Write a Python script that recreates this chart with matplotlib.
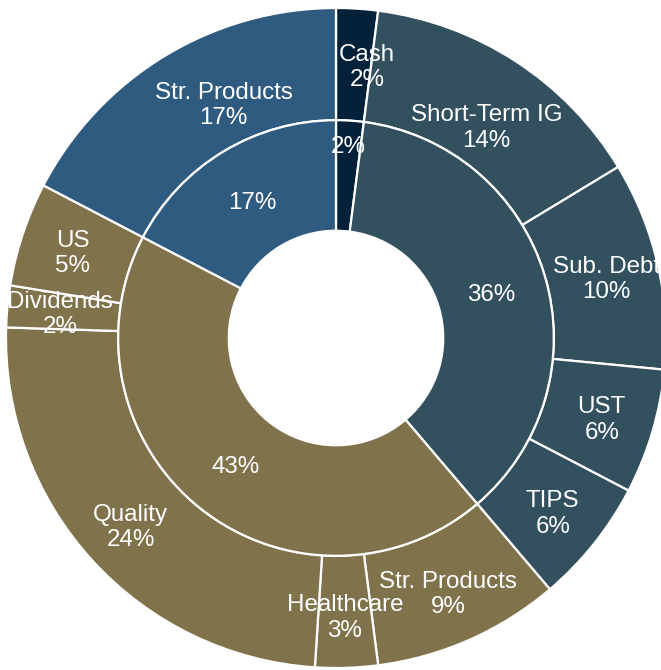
import matplotlib.pyplot as plt
import numpy as np

plt.rcParams['font.family'] = ['Liberation Sans', 'DejaVu Sans']

# inner ring: asset classes
inner_names = ['Cash', 'Fixed Income', 'Equity', 'Str. Products']
inner_vals = [2, 36, 43, 17]
inner_colors = ['#03223a', '#33505f', '#80734c', '#2f5b81']

# outer ring: sub-allocations
outer_names = ['Cash', 'Short-Term IG', 'Sub. Debt', 'UST', 'TIPS',
               'Str. Products', 'Healthcare', 'Quality', 'Dividends', 'US',
               'Str. Products']
outer_vals = [2, 14, 10, 6, 6, 9, 3, 24, 2, 5, 17]
outer_group = [0, 1, 1, 1, 1, 2, 2, 2, 2, 2, 3]
outer_colors = [inner_colors[g] for g in outer_group]

W, H = 661, 670
R = 330.0
cx, cy = 336, 338

fig = plt.figure(figsize=(W / 100, H / 100), dpi=100)
ax = fig.add_axes([0, 0, 1, 1])

wp = dict(edgecolor='white', linewidth=1.6)
outer, _ = ax.pie(outer_vals, radius=1.0, colors=outer_colors, startangle=90,
                  counterclock=False, wedgeprops=dict(width=1.0 - 0.66, **wp))
inner, _ = ax.pie(inner_vals, radius=0.66, colors=inner_colors, startangle=90,
                  counterclock=False, wedgeprops=dict(width=0.66 - 0.325, **wp))

tp = dict(color='white', fontsize=17.4, ha='center', va='center', linespacing=1.2)
dy = -3 / R

# label nudges (angle shift in degrees, radius) where Excel moved the label
nudge = {0: (-2.8, 0.835), 1: (-2.2, 0.79), 10: (-5.7, 0.79)}

for i, (w, name, v) in enumerate(zip(outer, outer_names, outer_vals)):
    da, r = nudge.get(i, (0, 0.84))
    a = np.deg2rad((w.theta1 + w.theta2) / 2 + da)
    ax.text(r * np.cos(a), r * np.sin(a) + dy, f'{name}\n{v}%', **tp)

for w, name, v in zip(inner, inner_names, inner_vals):
    a = np.deg2rad((w.theta1 + w.theta2) / 2)
    r = 0.59 if name == 'Cash' else 0.49
    ax.text(r * np.cos(a), r * np.sin(a) + dy, f'{v}%', **tp)

ax.set_xlim(-cx / R, (W - cx) / R)
ax.set_ylim(-(H - cy) / R, cy / R)
ax.set_aspect('auto')
ax.axis('off')

fig.savefig('out.png', dpi=100)
